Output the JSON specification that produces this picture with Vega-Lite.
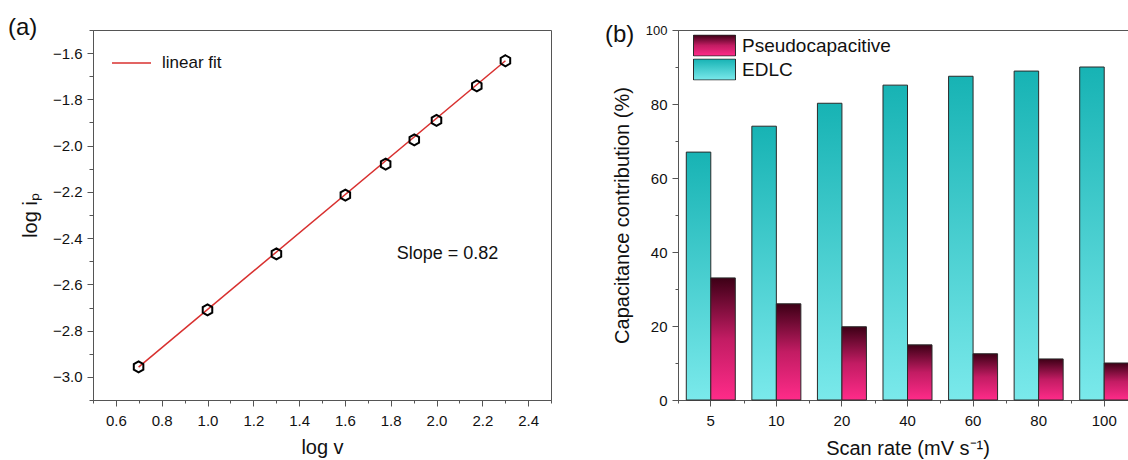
{
  "$schema": "https://vega.github.io/schema/vega-lite/v6.json",
  "padding": {"left": 7, "top": 15, "right": 0, "bottom": 0},
  "bounds": "flush",
  "spacing": 127,
  "resolve": {"scale": {"stroke": "independent", "fill": "independent"}, "legend": {"stroke": "independent"}},
  "config": {
    "font": "Liberation Sans",
    "view": {"stroke": "#555", "strokeWidth": 1},
    "axis": {
      "domainColor": "#555", "tickColor": "#555", "labelColor": "#111", "titleColor": "#111",
      "labelFontSize": 15, "titleFontSize": 20, "titleFontWeight": "normal",
      "grid": false, "tickSize": 6, "labelPadding": 5, "labelOverlap": false, "labelFlush": false
    },
    "legend": {"labelColor": "#111", "labelFont": "Liberation Sans"}
  },
  "hconcat": [
    {
      "width": 458,
      "height": 370,
      "resolve": {"axis": {"x": "independent", "y": "independent"}},
      "layer": [
        {
          "data": {"values": [
            {"logv": 0.699, "logip": -2.958, "series": "linear fit"},
            {"logv": 2.301, "logip": -1.633, "series": "linear fit"}
          ]},
          "mark": {"type": "line", "strokeWidth": 1.5},
          "encoding": {
            "x": {"field": "logv", "type": "quantitative",
              "scale": {"domain": [0.5, 2.5], "nice": false, "zero": false},
              "axis": {"orient": "bottom", "title": "log v", "values": [0.6, 0.8, 1.0, 1.2, 1.4, 1.6, 1.8, 2.0, 2.2, 2.4], "format": ".1f", "labelPadding": 7, "titlePadding": 9}},
            "y": {"field": "logip", "type": "quantitative",
              "scale": {"domain": [-3.1, -1.5], "nice": false, "zero": false},
              "axis": {"orient": "left", "title": "log iₚ", "values": [-3.0, -2.8, -2.6, -2.4, -2.2, -2.0, -1.8, -1.6], "format": ".1f", "titlePadding": 12}},
            "stroke": {"field": "series", "type": "nominal",
              "scale": {"domain": ["linear fit"], "range": ["#d8302f"]},
              "legend": {"orient": "none", "legendX": 18, "legendY": 23, "title": null, "symbolType": "stroke", "symbolSize": 1521, "symbolStrokeWidth": 1.5, "labelFontSize": 17, "labelOffset": 10, "clipHeight": 20, "padding": 0}}
          }
        },
        {
          "data": {"values": [
            {"logv": 0.699, "logip": -2.957},
            {"logv": 1.0, "logip": -2.71},
            {"logv": 1.301, "logip": -2.468},
            {"logv": 1.602, "logip": -2.214},
            {"logv": 1.778, "logip": -2.08},
            {"logv": 1.903, "logip": -1.975},
            {"logv": 2.0, "logip": -1.891},
            {"logv": 2.176, "logip": -1.742},
            {"logv": 2.301, "logip": -1.633}
          ]},
          "mark": {"type": "point", "shape": "M0,-1L0.866,-0.5L0.866,0.5L0,1L-0.866,0.5L-0.866,-0.5Z", "filled": false, "stroke": "#000", "strokeWidth": 2, "size": 121, "opacity": 1},
          "encoding": {
            "x": {"field": "logv", "type": "quantitative",
              "axis": {"orient": "bottom", "values": [0.5, 0.7, 0.9, 1.1, 1.3, 1.5, 1.7, 1.9, 2.1, 2.3, 2.5], "labels": false, "title": null, "domain": false, "tickSize": 3}},
            "y": {"field": "logip", "type": "quantitative",
              "axis": {"orient": "left", "values": [-3.1, -2.9, -2.7, -2.5, -2.3, -2.1, -1.9, -1.7, -1.5], "labels": false, "title": null, "domain": false, "tickSize": 4}}
          }
        },
        {
          "data": {"values": [{"label": "Slope = 0.82"}]},
          "mark": {"type": "text", "align": "left", "baseline": "middle", "fontSize": 18, "color": "#111"},
          "encoding": {
            "x": {"datum": 1.826, "type": "quantitative", "axis": null},
            "y": {"datum": -2.467, "type": "quantitative", "axis": null},
            "text": {"field": "label"}
          }
        },
        {
          "data": {"values": [{"label": "(a)", "px": 0.1288, "py": -1.4913}, {"label": "(b)", "px": 2.7358, "py": -1.5203}]},
          "mark": {"type": "text", "align": "left", "baseline": "middle", "fontSize": 24, "color": "#111"},
          "encoding": {
            "x": {"field": "px", "type": "quantitative", "axis": null},
            "y": {"field": "py", "type": "quantitative", "axis": null},
            "text": {"field": "label"}
          }
        }
      ]
    },
    {
      "width": 459,
      "height": 370,
      "data": {"values": [
        {"rate": "5", "type": "EDLC", "value": 67},
        {"rate": "5", "type": "Pseudocapacitive", "value": 33},
        {"rate": "10", "type": "EDLC", "value": 74},
        {"rate": "10", "type": "Pseudocapacitive", "value": 26},
        {"rate": "20", "type": "EDLC", "value": 80.2},
        {"rate": "20", "type": "Pseudocapacitive", "value": 19.8},
        {"rate": "40", "type": "EDLC", "value": 85.1},
        {"rate": "40", "type": "Pseudocapacitive", "value": 14.9},
        {"rate": "60", "type": "EDLC", "value": 87.5},
        {"rate": "60", "type": "Pseudocapacitive", "value": 12.5},
        {"rate": "80", "type": "EDLC", "value": 88.9},
        {"rate": "80", "type": "Pseudocapacitive", "value": 11.1},
        {"rate": "100", "type": "EDLC", "value": 90},
        {"rate": "100", "type": "Pseudocapacitive", "value": 10}
      ]},
      "resolve": {"axis": {"x": "independent", "y": "independent"}, "scale": {"stroke": "independent"}, "legend": {"stroke": "independent"}},
      "layer": [
        {
          "transform": [{"filter": "datum.type === 'EDLC'"}],
          "mark": {"type": "bar", "strokeWidth": 1,
            "fill": {"id": "gEDLC", "gradient": "linear", "x1": 0, "y1": 0, "x2": 0, "y2": 1, "stops": [{"offset": 0, "color": "#17b3b4"}, {"offset": 1, "color": "#7ae9eb"}]}},
          "encoding": {
            "x": {"field": "rate", "type": "nominal", "sort": ["5", "10", "20", "40", "60", "80", "100"],
              "scale": {"paddingInner": 0, "paddingOuter": 0},
              "axis": {"orient": "bottom", "title": "Scan rate (mV s⁻¹)", "labelAngle": 0, "labelPadding": 7, "titlePadding": 10}},
            "xOffset": {"field": "type", "type": "nominal",
              "scale": {"domain": ["EDLC", "Pseudocapacitive"], "paddingInner": 0, "paddingOuter": 0.338}},
            "y": {"field": "value", "type": "quantitative", "stack": null,
              "scale": {"domain": [0, 100], "nice": false},
              "axis": {"orient": "left", "title": "Capacitance contribution (%)", "values": [0, 20, 40, 60, 80, 100], "titlePadding": 13,
                "labelFontSize": {"condition": {"test": "datum.value === 100", "value": 13}, "value": 15}}},
            "stroke": {"field": "type", "type": "nominal",
              "scale": {"domain": ["EDLC"], "range": ["#2a2a2a"]},
              "legend": {"orient": "none", "legendX": 15, "legendY": 28.5, "title": null, "padding": 0,
                "symbolType": "M-1,-0.5H1V0.5H-1Z", "symbolSize": 1764, "symbolStrokeWidth": 1, "symbolOpacity": 1,
                "clipHeight": 22, "labelOffset": 6, "labelFontSize": 19,
                "encode": {"symbols": {
                  "fill": {"value": {"id": "gEDLC", "gradient": "linear", "x1": 0, "y1": 0, "x2": 0, "y2": 1, "stops": [{"offset": 0, "color": "#17b3b4"}, {"offset": 1, "color": "#7ae9eb"}]}},
                  "fillOpacity": {"value": 1}
                }}}}
          }
        },
        {
          "transform": [{"filter": "datum.type === 'Pseudocapacitive'"}],
          "mark": {"type": "bar", "strokeWidth": 1,
            "fill": {"id": "gPseudo", "gradient": "linear", "x1": 0, "y1": 0, "x2": 0, "y2": 1, "stops": [{"offset": 0, "color": "#3d0016"}, {"offset": 0.5, "color": "#c21c63"}, {"offset": 1, "color": "#ff2b89"}]}},
          "encoding": {
            "x": {"field": "rate", "type": "nominal", "sort": ["5", "10", "20", "40", "60", "80", "100"], "axis": null},
            "xOffset": {"field": "type", "type": "nominal"},
            "y": {"field": "value", "type": "quantitative", "stack": null, "axis": null},
            "stroke": {"field": "type", "type": "nominal",
              "scale": {"domain": ["Pseudocapacitive"], "range": ["#2a2a2a"]},
              "legend": {"orient": "none", "legendX": 15, "legendY": 4.5, "title": null, "padding": 0,
                "symbolType": "M-1,-0.5H1V0.5H-1Z", "symbolSize": 1764, "symbolStrokeWidth": 1, "symbolOpacity": 1,
                "clipHeight": 22, "labelOffset": 6, "labelFontSize": 19,
                "encode": {"symbols": {
                  "fill": {"value": {"id": "gPseudo", "gradient": "linear", "x1": 0, "y1": 0, "x2": 0, "y2": 1, "stops": [{"offset": 0, "color": "#3d0016"}, {"offset": 0.5, "color": "#c21c63"}, {"offset": 1, "color": "#ff2b89"}]}},
                  "fillOpacity": {"value": 1}
                }}}}
          }
        },
        {
          "transform": [{"filter": "datum.type === 'EDLC'"}],
          "mark": {"type": "bar", "opacity": 0},
          "encoding": {
            "x": {"field": "rate", "type": "nominal", "sort": ["5", "10", "20", "40", "60", "80", "100"],
              "axis": {"orient": "bottom", "tickBand": "extent", "labels": false, "title": null, "domain": false, "tickSize": 3}},
            "y": {"field": "value", "type": "quantitative", "stack": null,
              "axis": {"orient": "left", "values": [10, 30, 50, 70, 90], "labels": false, "title": null, "domain": false, "tickSize": 3}}
          }
        }
      ]
    }
  ]
}
